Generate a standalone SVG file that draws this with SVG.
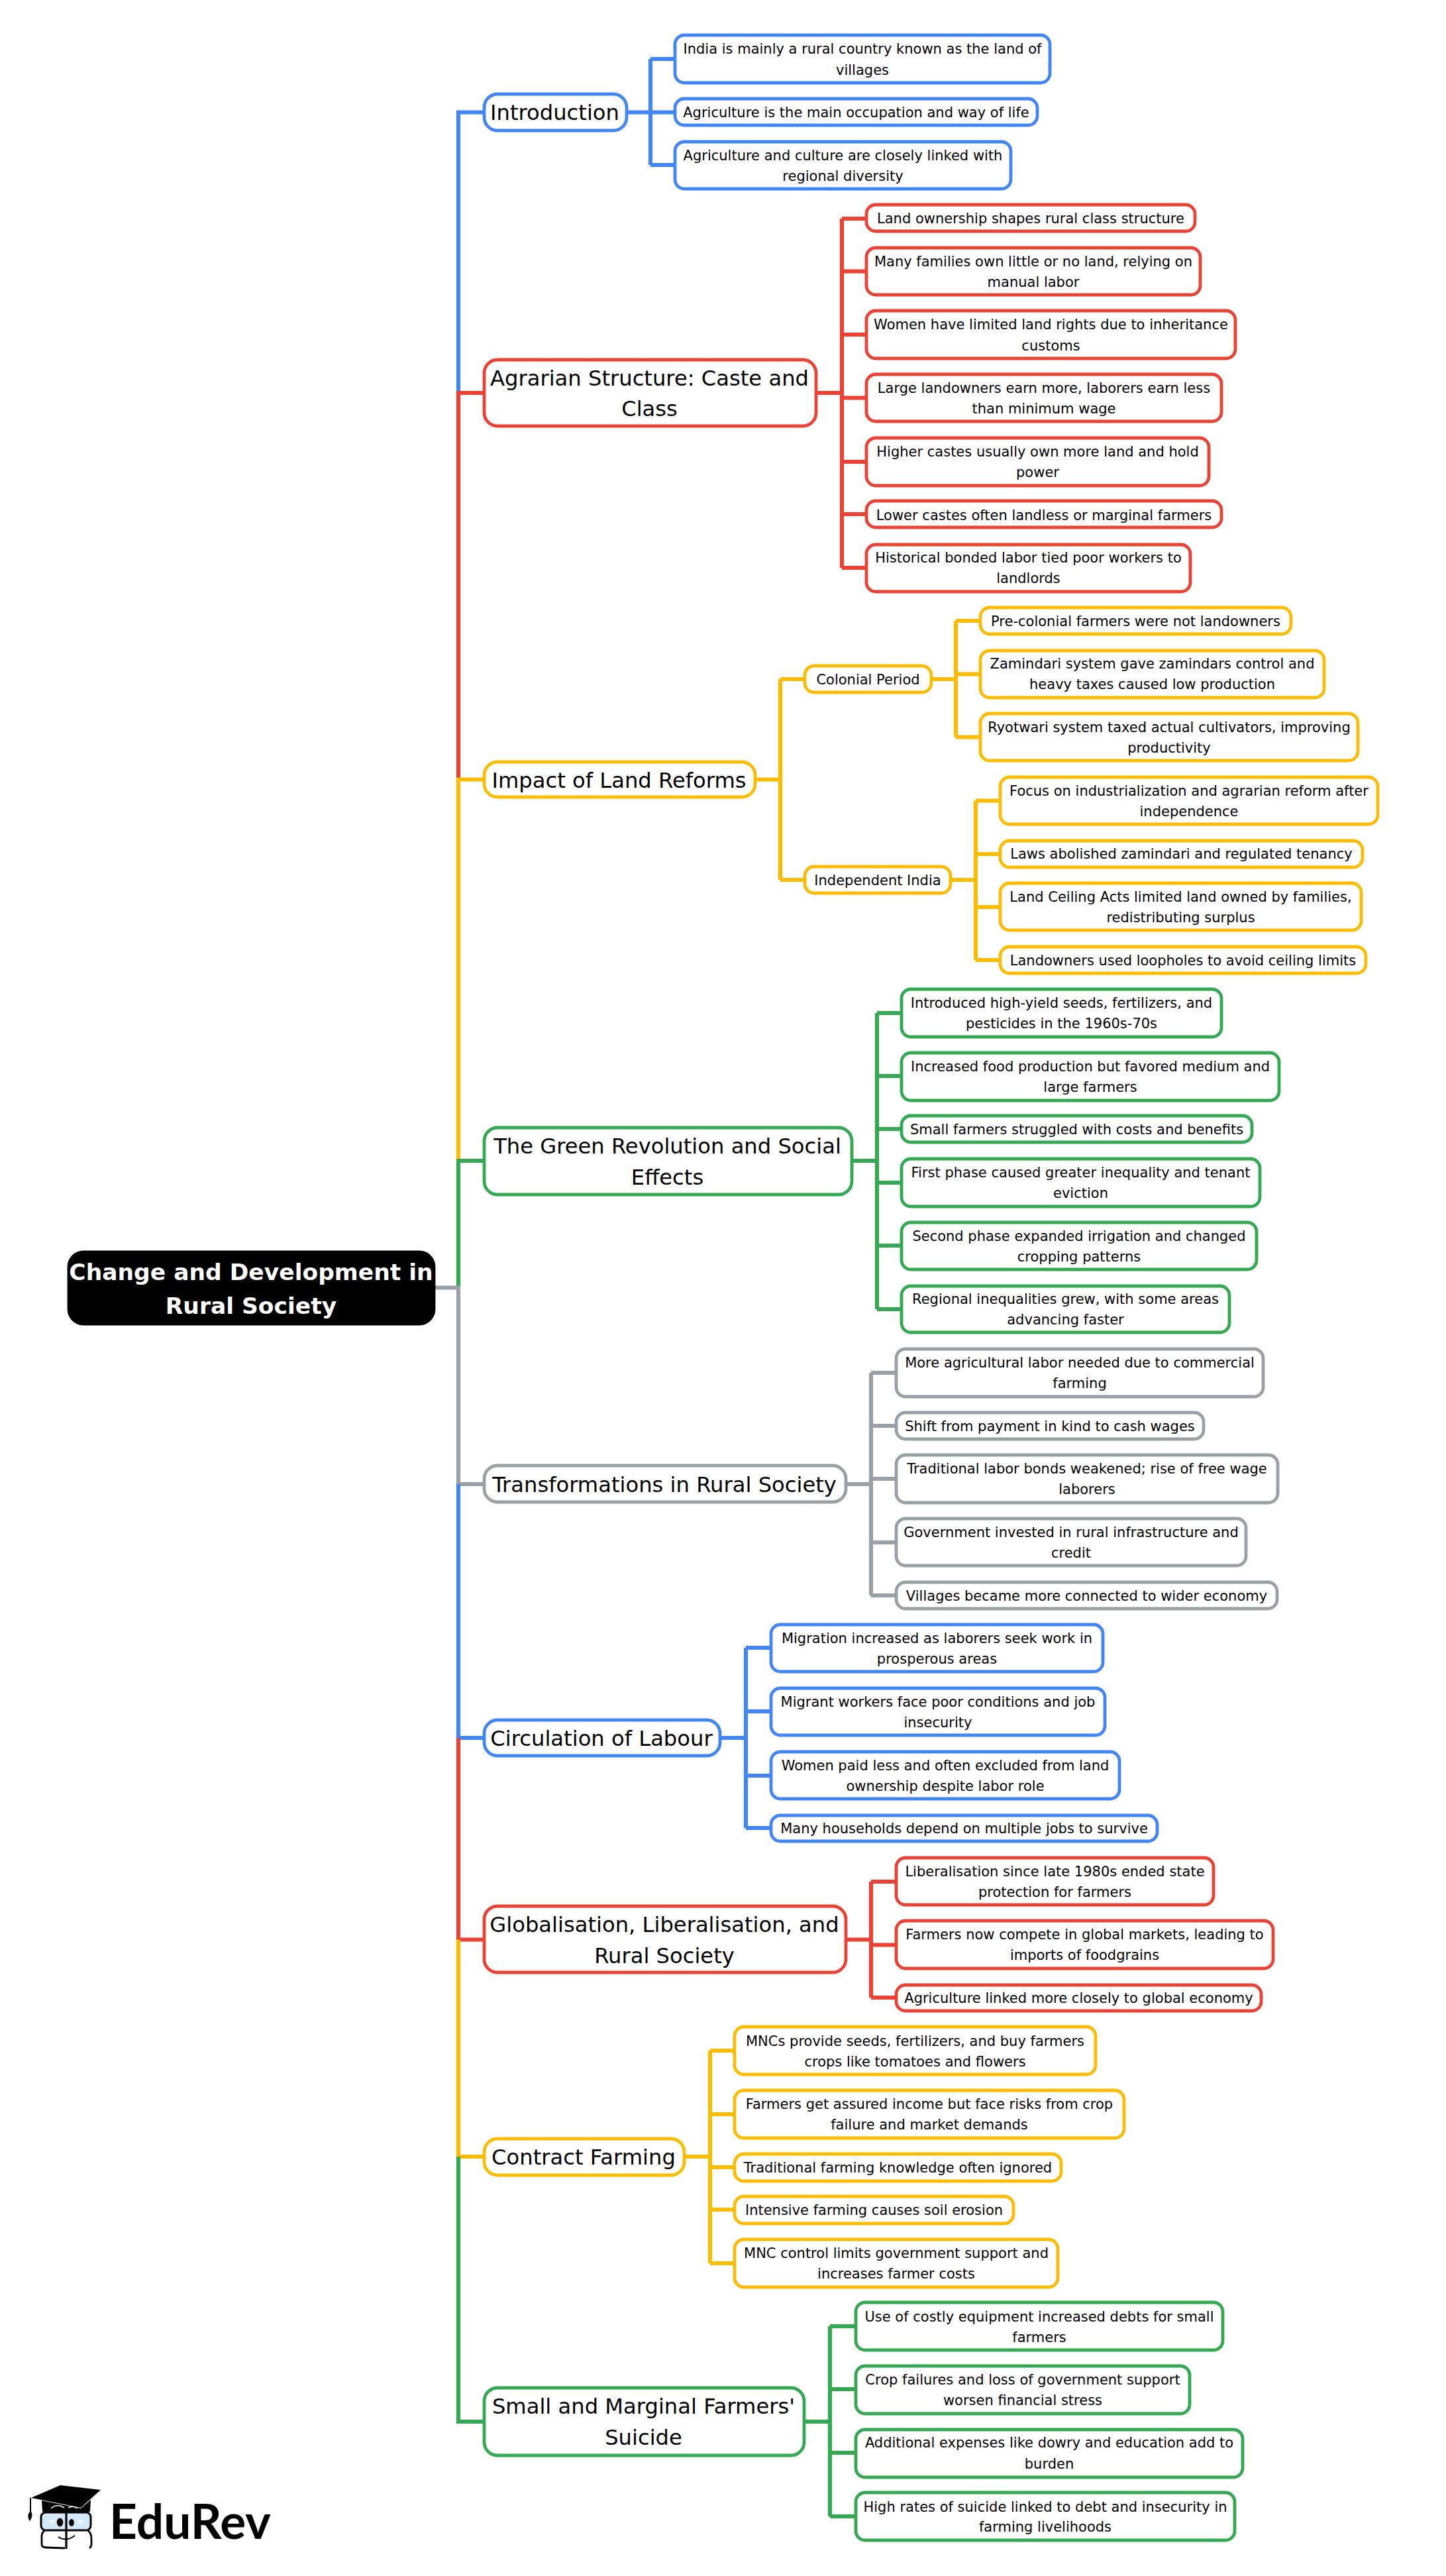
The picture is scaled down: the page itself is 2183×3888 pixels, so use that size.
<svg xmlns="http://www.w3.org/2000/svg" width="2183" height="3888" viewBox="0 0 2183 3888">
<style>
text{font-family:"DejaVu Sans",sans-serif;fill:#000;text-anchor:middle}
.t1{font-size:21px}.t2{font-size:32.2px}.t3{font-size:34.5px;font-weight:bold;fill:#fff}
rect{fill:#fff;stroke-width:4.8}
.c path{fill:none;stroke-width:6.2}
.cb rect{stroke:#4285F4}.cr rect{stroke:#EA4335}.cy rect{stroke:#FBBC05}.cg rect{stroke:#34A853}.ck rect{stroke:#9AA0A6}
path.cb{stroke:#4285F4}path.cr{stroke:#EA4335}path.cy{stroke:#FBBC05}path.cg{stroke:#34A853}path.ck{stroke:#9AA0A6}
</style>
<rect width="2183" height="3888" style="fill:#fff;stroke:none"/>
<g id="connectors" class="c">
<path class="cb" d="M946 169.5H982M982 89V249M982 89H1021M982 169.5H1021M982 249H1021"/>
<path class="cr" d="M1232 593H1271M1271 330V857M1271 330H1310M1271 409.5H1310M1271 505H1310M1271 600.5H1310M1271 697H1310M1271 776H1310M1271 857H1310"/>
<path class="cy" d="M1140 1176.5H1178M1178 1025V1328M1178 1025H1217M1178 1328H1217"/>
<path class="cy" d="M1406 1025H1443M1443 937V1112.5M1443 937H1482M1443 1017.5H1482M1443 1112.5H1482"/>
<path class="cy" d="M1435 1328H1473M1473 1208.5V1449M1473 1208.5H1512M1473 1289H1512M1473 1369H1512M1473 1449H1512"/>
<path class="cg" d="M1286 1752H1324M1324 1529V1976M1324 1529H1363M1324 1624H1363M1324 1704H1363M1324 1785H1363M1324 1880H1363M1324 1976H1363"/>
<path class="ck" d="M1277 2240H1315M1315 2072V2408M1315 2072H1355M1315 2152H1355M1315 2232H1355M1315 2328H1355M1315 2408H1355"/>
<path class="cb" d="M1087 2623H1126M1126 2487V2759M1126 2487H1166M1126 2583H1166M1126 2680H1166M1126 2759H1166"/>
<path class="cr" d="M1277 2927.5H1315M1315 2840V3015M1315 2840H1355M1315 2935.5H1355M1315 3015H1355"/>
<path class="cy" d="M1033 3255H1072M1072 3095V3416M1072 3095H1111M1072 3191H1111M1072 3271H1111M1072 3335H1111M1072 3416H1111"/>
<path class="cg" d="M1214 3655H1253M1253 3511V3798M1253 3511H1294M1253 3606H1294M1253 3702H1294M1253 3798H1294"/>
<path class="cb" d="M731 169.5H692V593"/>
<path class="cr" d="M731 593H692V1176.5"/>
<path class="cy" d="M731 1176.5H692V1752"/>
<path class="cg" d="M731 1752H692V1943.5"/>
<path class="ck" d="M656 1943.5H692V2240H731"/>
<path class="cb" d="M692 2240V2623H731"/>
<path class="cr" d="M692 2623V2927.5H731"/>
<path class="cy" d="M692 2927.5V3255H731"/>
<path class="cg" d="M692 3255V3655H731"/>
</g>
<g id="root"><rect x="104" y="1890" width="551" height="108" rx="22" style="fill:#000;stroke:#000"/><text class="t3" x="379" y="1932">Change and Development in</text><text class="t3" x="379" y="1983">Rural Society</text></g>

<g id="n-introduction" class="cb"><rect x="731" y="142" width="215" height="55" rx="20"/><text class="t2" x="837.5" y="181">Introduction</text></g>
<g id="n-intro-1" class="cb"><rect x="1019" y="53" width="566" height="72" rx="14"/><text class="t1" x="1302"><tspan x="1302" y="81">India is mainly a rural country known as the land of</tspan><tspan x="1302" y="113">villages</tspan></text></g>
<g id="n-intro-2" class="cb"><rect x="1019" y="149" width="547" height="40" rx="14"/><text class="t1" x="1292.5" y="177">Agriculture is the main occupation and way of life</text></g>
<g id="n-intro-3" class="cb"><rect x="1019" y="214" width="507" height="71" rx="14"/><text class="t1"><tspan x="1272.5" y="242">Agriculture and culture are closely linked with</tspan><tspan x="1272.5" y="273">regional diversity</tspan></text></g>

<g id="n-agrarian" class="cr"><rect x="731" y="543" width="501" height="100" rx="20"/><text class="t2"><tspan x="980.5" y="582">Agrarian Structure: Caste and</tspan><tspan x="980.5" y="628">Class</tspan></text></g>
<g id="n-agr-1" class="cr"><rect x="1308" y="309" width="496" height="40" rx="14"/><text class="t1" x="1556" y="337">Land ownership shapes rural class structure</text></g>
<g id="n-agr-2" class="cr"><rect x="1308" y="374" width="504" height="71" rx="14"/><text class="t1"><tspan x="1560" y="402">Many families own little or no land, relying on</tspan><tspan x="1560" y="433">manual labor</tspan></text></g>
<g id="n-agr-3" class="cr"><rect x="1308" y="469" width="557" height="72" rx="14"/><text class="t1"><tspan x="1586.5" y="497">Women have limited land rights due to inheritance</tspan><tspan x="1586.5" y="529">customs</tspan></text></g>
<g id="n-agr-4" class="cr"><rect x="1308" y="565" width="536" height="71" rx="14"/><text class="t1"><tspan x="1576" y="593">Large landowners earn more, laborers earn less</tspan><tspan x="1576" y="624">than minimum wage</tspan></text></g>
<g id="n-agr-5" class="cr"><rect x="1308" y="661" width="517" height="72" rx="14"/><text class="t1"><tspan x="1566.5" y="689">Higher castes usually own more land and hold</tspan><tspan x="1566.5" y="720">power</tspan></text></g>
<g id="n-agr-6" class="cr"><rect x="1308" y="756" width="536" height="40" rx="14"/><text class="t1" x="1576" y="785">Lower castes often landless or marginal farmers</text></g>
<g id="n-agr-7" class="cr"><rect x="1308" y="822" width="489" height="71" rx="14"/><text class="t1"><tspan x="1552.5" y="849">Historical bonded labor tied poor workers to</tspan><tspan x="1552.5" y="880">landlords</tspan></text></g>

<g id="n-impact" class="cy"><rect x="731" y="1150" width="409" height="53" rx="20"/><text class="t2" x="934.5" y="1189">Impact of Land Reforms</text></g>
<g id="n-colonial" class="cy"><rect x="1215" y="1005" width="191" height="40" rx="14"/><text class="t1" x="1310.5" y="1033">Colonial Period</text></g>
<g id="n-independent" class="cy"><rect x="1215" y="1308" width="220" height="40" rx="14"/><text class="t1" x="1325" y="1336">Independent India</text></g>
<g id="n-col-1" class="cy"><rect x="1480" y="917" width="469" height="40" rx="14"/><text class="t1" x="1714.5" y="945">Pre-colonial farmers were not landowners</text></g>
<g id="n-col-2" class="cy"><rect x="1480" y="982" width="519" height="71" rx="14"/><text class="t1"><tspan x="1739.5" y="1009">Zamindari system gave zamindars control and</tspan><tspan x="1739.5" y="1040">heavy taxes caused low production</tspan></text></g>
<g id="n-col-3" class="cy"><rect x="1480" y="1077" width="570" height="71" rx="14"/><text class="t1"><tspan x="1765" y="1105">Ryotwari system taxed actual cultivators, improving</tspan><tspan x="1765" y="1136">productivity</tspan></text></g>
<g id="n-ind-1" class="cy"><rect x="1510" y="1173" width="570" height="71" rx="14"/><text class="t1"><tspan x="1795" y="1201">Focus on industrialization and agrarian reform after</tspan><tspan x="1795" y="1232">independence</tspan></text></g>
<g id="n-ind-2" class="cy"><rect x="1510" y="1269" width="547" height="40" rx="14"/><text class="t1" x="1783.5" y="1296">Laws abolished zamindari and regulated tenancy</text></g>
<g id="n-ind-3" class="cy"><rect x="1510" y="1333" width="545" height="71" rx="14"/><text class="t1"><tspan x="1782.5" y="1361">Land Ceiling Acts limited land owned by families,</tspan><tspan x="1782.5" y="1392">redistributing surplus</tspan></text></g>
<g id="n-ind-4" class="cy"><rect x="1510" y="1429" width="552" height="40" rx="14"/><text class="t1" x="1786" y="1457">Landowners used loopholes to avoid ceiling limits</text></g>

<g id="n-green" class="cg"><rect x="731" y="1702" width="555" height="101" rx="20"/><text class="t2"><tspan x="1007.5" y="1741">The Green Revolution and Social</tspan><tspan x="1007.5" y="1788">Effects</tspan></text></g>
<g id="n-grn-1" class="cg"><rect x="1361" y="1493" width="483" height="72" rx="14"/><text class="t1"><tspan x="1602.5" y="1521">Introduced high-yield seeds, fertilizers, and</tspan><tspan x="1602.5" y="1552">pesticides in the 1960s-70s</tspan></text></g>
<g id="n-grn-2" class="cg"><rect x="1361" y="1589" width="570" height="72" rx="14"/><text class="t1"><tspan x="1646" y="1617">Increased food production but favored medium and</tspan><tspan x="1646" y="1648">large farmers</tspan></text></g>
<g id="n-grn-3" class="cg"><rect x="1361" y="1684" width="529" height="40" rx="14"/><text class="t1" x="1625.5" y="1712">Small farmers struggled with costs and benefits</text></g>
<g id="n-grn-4" class="cg"><rect x="1361" y="1749" width="541" height="72" rx="14"/><text class="t1"><tspan x="1631.5" y="1777">First phase caused greater inequality and tenant</tspan><tspan x="1631.5" y="1808">eviction</tspan></text></g>
<g id="n-grn-5" class="cg"><rect x="1361" y="1845" width="536" height="71" rx="14"/><text class="t1"><tspan x="1629" y="1873">Second phase expanded irrigation and changed</tspan><tspan x="1629" y="1904">cropping patterns</tspan></text></g>
<g id="n-grn-6" class="cg"><rect x="1361" y="1941" width="495" height="70" rx="14"/><text class="t1"><tspan x="1608.5" y="1968">Regional inequalities grew, with some areas</tspan><tspan x="1608.5" y="1999">advancing faster</tspan></text></g>

<g id="n-trans" class="ck"><rect x="731" y="2212" width="546" height="55" rx="20"/><text class="t2" x="1003" y="2252">Transformations in Rural Society</text></g>
<g id="n-trn-1" class="ck"><rect x="1353" y="2036" width="554" height="72" rx="14"/><text class="t1"><tspan x="1630" y="2064">More agricultural labor needed due to commercial</tspan><tspan x="1630" y="2095">farming</tspan></text></g>
<g id="n-trn-2" class="ck"><rect x="1353" y="2132" width="464" height="40" rx="14"/><text class="t1" x="1585" y="2160">Shift from payment in kind to cash wages</text></g>
<g id="n-trn-3" class="ck"><rect x="1353" y="2196" width="576" height="72" rx="14"/><text class="t1"><tspan x="1641" y="2224">Traditional labor bonds weakened; rise of free wage</tspan><tspan x="1641" y="2255">laborers</tspan></text></g>
<g id="n-trn-4" class="ck"><rect x="1353" y="2292" width="528" height="71" rx="14"/><text class="t1"><tspan x="1617" y="2320">Government invested in rural infrastructure and</tspan><tspan x="1617" y="2351">credit</tspan></text></g>
<g id="n-trn-5" class="ck"><rect x="1353" y="2388" width="575" height="40" rx="14"/><text class="t1" x="1640.5" y="2416">Villages became more connected to wider economy</text></g>

<g id="n-circ" class="cb"><rect x="731" y="2596" width="356" height="54" rx="20"/><text class="t2" x="908" y="2635">Circulation of Labour</text></g>
<g id="n-cir-1" class="cb"><rect x="1164" y="2452" width="501" height="71" rx="14"/><text class="t1"><tspan x="1414.5" y="2480">Migration increased as laborers seek work in</tspan><tspan x="1414.5" y="2511">prosperous areas</tspan></text></g>
<g id="n-cir-2" class="cb"><rect x="1164" y="2548" width="504" height="71" rx="14"/><text class="t1"><tspan x="1416" y="2576">Migrant workers face poor conditions and job</tspan><tspan x="1416" y="2607">insecurity</tspan></text></g>
<g id="n-cir-3" class="cb"><rect x="1164" y="2644" width="526" height="71" rx="14"/><text class="t1"><tspan x="1427" y="2672">Women paid less and often excluded from land</tspan><tspan x="1427" y="2703">ownership despite labor role</tspan></text></g>
<g id="n-cir-4" class="cb"><rect x="1164" y="2740" width="583" height="39" rx="14"/><text class="t1" x="1455.5" y="2767">Many households depend on multiple jobs to survive</text></g>

<g id="n-glob" class="cr"><rect x="731" y="2877" width="546" height="100" rx="20"/><text class="t2"><tspan x="1003" y="2916">Globalisation, Liberalisation, and</tspan><tspan x="1003" y="2963">Rural Society</tspan></text></g>
<g id="n-glo-1" class="cr"><rect x="1353" y="2804" width="479" height="71" rx="14"/><text class="t1"><tspan x="1592.5" y="2832">Liberalisation since late 1980s ended state</tspan><tspan x="1592.5" y="2863">protection for farmers</tspan></text></g>
<g id="n-glo-2" class="cr"><rect x="1353" y="2899" width="569" height="72" rx="14"/><text class="t1"><tspan x="1637.5" y="2927">Farmers now compete in global markets, leading to</tspan><tspan x="1637.5" y="2958">imports of foodgrains</tspan></text></g>
<g id="n-glo-3" class="cr"><rect x="1353" y="2996" width="551" height="39" rx="14"/><text class="t1" x="1628.5" y="3023">Agriculture linked more closely to global economy</text></g>

<g id="n-contract" class="cy"><rect x="731" y="3228" width="302" height="55" rx="20"/><text class="t2" x="881" y="3267">Contract Farming</text></g>
<g id="n-con-1" class="cy"><rect x="1109" y="3059" width="545" height="72" rx="14"/><text class="t1"><tspan x="1381.5" y="3088">MNCs provide seeds, fertilizers, and buy farmers</tspan><tspan x="1381.5" y="3119">crops like tomatoes and flowers</tspan></text></g>
<g id="n-con-2" class="cy"><rect x="1109" y="3155" width="588" height="72" rx="14"/><text class="t1"><tspan x="1403" y="3183">Farmers get assured income but face risks from crop</tspan><tspan x="1403" y="3214">failure and market demands</tspan></text></g>
<g id="n-con-3" class="cy"><rect x="1109" y="3251" width="493" height="41" rx="14"/><text class="t1" x="1355.5" y="3279">Traditional farming knowledge often ignored</text></g>
<g id="n-con-4" class="cy"><rect x="1109" y="3315" width="421" height="41" rx="14"/><text class="t1" x="1319.5" y="3343">Intensive farming causes soil erosion</text></g>
<g id="n-con-5" class="cy"><rect x="1109" y="3380" width="488" height="72" rx="14"/><text class="t1"><tspan x="1353" y="3408">MNC control limits government support and</tspan><tspan x="1353" y="3439">increases farmer costs</tspan></text></g>

<g id="n-small" class="cg"><rect x="731" y="3604" width="483" height="102" rx="20"/><text class="t2"><tspan x="971.5" y="3643">Small and Marginal Farmers'</tspan><tspan x="971.5" y="3690">Suicide</tspan></text></g>
<g id="n-sma-1" class="cg"><rect x="1292" y="3475" width="554" height="72" rx="14"/><text class="t1"><tspan x="1569" y="3504">Use of costly equipment increased debts for small</tspan><tspan x="1569" y="3535">farmers</tspan></text></g>
<g id="n-sma-2" class="cg"><rect x="1292" y="3571" width="504" height="72" rx="14"/><text class="t1"><tspan x="1544" y="3599">Crop failures and loss of government support</tspan><tspan x="1544" y="3630">worsen financial stress</tspan></text></g>
<g id="n-sma-3" class="cg"><rect x="1292" y="3667" width="584" height="72" rx="14"/><text class="t1"><tspan x="1584" y="3694">Additional expenses like dowry and education add to</tspan><tspan x="1584" y="3726">burden</tspan></text></g>
<g id="n-sma-4" class="cg"><rect x="1292" y="3762" width="572" height="72" rx="14"/><text class="t1"><tspan x="1578" y="3791">High rates of suicide linked to debt and insecurity in</tspan><tspan x="1578" y="3821">farming livelihoods</tspan></text></g>

<g id="logo" transform="translate(0,3700)">
<rect x="10" y="23" width="430" height="147" style="fill:#fefefe;stroke:none"/>
<path d="M47 70L91 51L152 58L122 85Z" fill="#000"/>
<path d="M63 74L122 86L137 73L136 91H64Z" fill="#000"/>
<path d="M77 86Q86 78 97 85" fill="none" stroke="#fff" stroke-width="1.5"/>
<path d="M103 85Q110 81 117 86" fill="none" stroke="#fff" stroke-width="1.5"/>
<path d="M46 70V92" stroke="#000" stroke-width="2" fill="none"/>
<path d="M45 91C41 96 42 100 45 105C48 100 50 96 47 91Z" fill="#000"/>
<rect x="62" y="92" width="75" height="27" rx="7" style="fill:#d4e9f9;stroke:#000;stroke-width:3"/>
<path d="M68 119Q62 122 63 132V140Q63 145 70 145L98 146M132 119Q138 122 138 132V140Q138 144 135 146" fill="none" stroke="#000" stroke-width="2.8"/>
<path d="M100 90V147" stroke="#000" stroke-width="3.2" fill="none"/>
<ellipse cx="90.5" cy="107" rx="4.8" ry="6.5" fill="#000"/>
<ellipse cx="108" cy="107.5" rx="3.8" ry="5.5" fill="#000"/>
<path d="M88 129Q100 137 113 127" fill="none" stroke="#000" stroke-width="2"/>
<path d="M75 104H83M75 107H83M117 104H125M117 107H125" stroke="#fff" stroke-width="1.5" fill="none"/>
<text x="287" y="132" style="font-family:Lato,'DejaVu Sans',sans-serif;font-weight:bold;font-size:73px">EduRev</text>
</g>
</svg>
